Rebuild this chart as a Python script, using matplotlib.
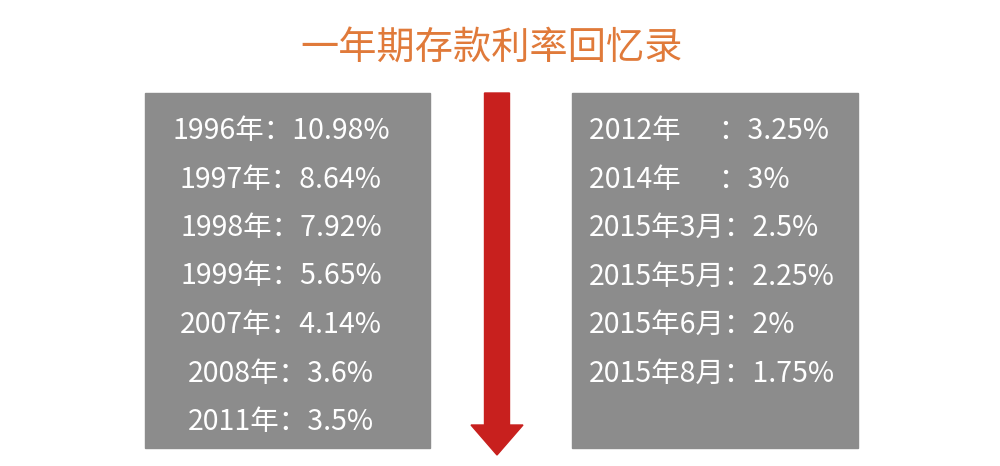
import matplotlib
matplotlib.use("Agg")
import matplotlib.pyplot as plt
from matplotlib.patches import Rectangle, FancyArrow

plt.rcParams['font.family'] = ['Noto Sans CJK SC', 'DejaVu Sans']

title = "一年期存款利率回忆录"
left_labels = ["1996年", "1997年", "1998年", "1999年", "2007年", "2008年", "2011年"]
left_rates = ["10.98%", "8.64%", "7.92%", "5.65%", "4.14%", "3.6%", "3.5%"]
right_labels = ["2012年      ", "2014年      ", "2015年3月", "2015年5月", "2015年6月", "2015年8月"]
right_rates = ["3.25%", "3%", "2.5%", "2.25%", "2%", "1.75%"]

fig = plt.figure(figsize=(10, 4.66), dpi=100)
ax = fig.add_axes([0, 0, 1, 1])
ax.set_xlim(0, 1000)
ax.set_ylim(466, 0)
ax.axis('off')

gray = '#8c8c8c'
ax.add_patch(Rectangle((145, 93), 285, 355, color=gray))
ax.add_patch(Rectangle((572, 93), 286, 355, color=gray))
ax.add_patch(FancyArrow(497, 93, 0, 362, width=25, head_width=52, head_length=30,
                        length_includes_head=True, color='#c8201e'))

ax.text(492, 48, title, ha='center', va='center', fontsize=27.5, color='#e07a3a', fontweight='medium')

y0, dy = 131, 48.5
for i, (l, r) in enumerate(zip(left_labels, left_rates)):
    ax.text(281, y0 + i * dy, f"{l}：{r}", ha='center', va='center', fontsize=20.5, color='white')
for i, (l, r) in enumerate(zip(right_labels, right_rates)):
    ax.text(589, y0 + i * dy, f"{l}：{r}", ha='left', va='center', fontsize=20.5, color='white')

fig.savefig("out.png", dpi=100)
